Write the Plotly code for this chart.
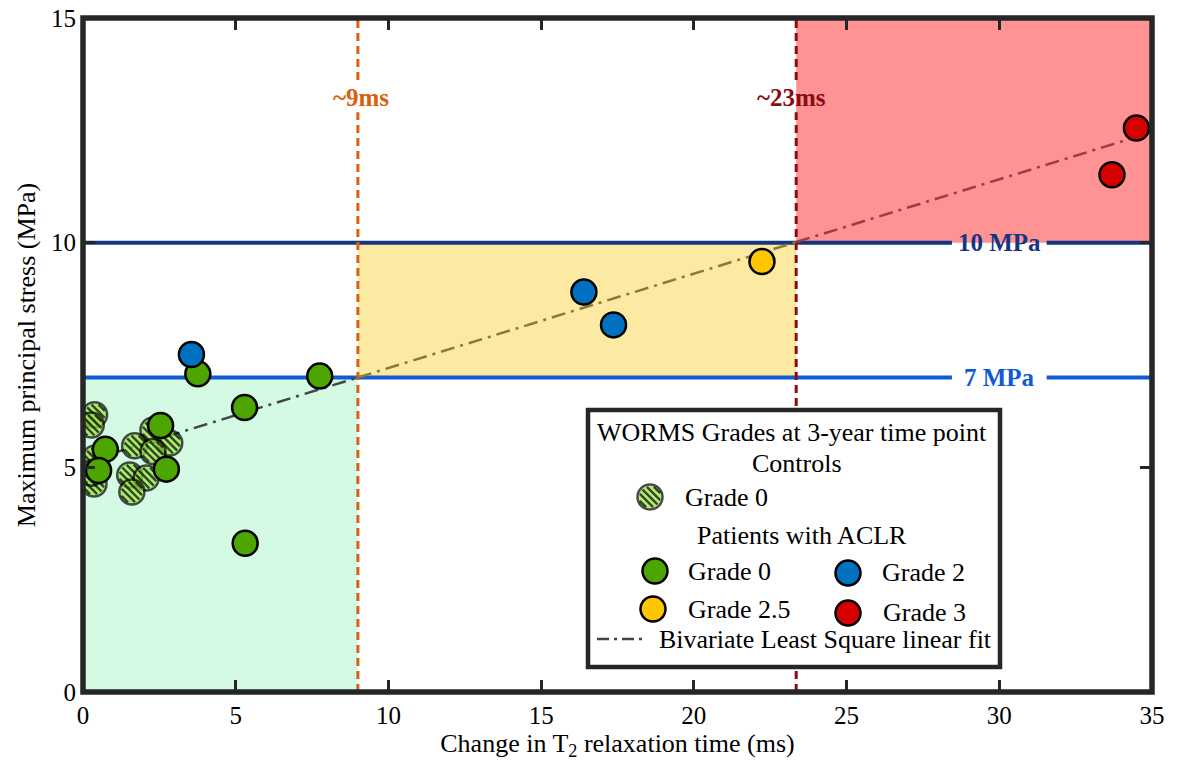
import math
import plotly.graph_objects as go

# ---------------- data ----------------
ctrl_x = [0.38, 0.27, 2.29, 2.84, 1.69, 2.29, 0.38, 0.36, 0.27, 1.53, 2.07, 1.60]
ctrl_y = [6.17, 5.94, 5.83, 5.54, 5.48, 5.35, 5.20, 4.63, 4.87, 4.83, 4.76, 4.45]
g0_x = [3.76, 7.75, 5.29, 5.31, 2.54, 0.73, 0.51, 2.73]
g0_y = [7.08, 7.03, 6.33, 3.31, 5.93, 5.40, 4.93, 4.96]
g2_x = [3.55, 16.40, 17.37]
g2_y = [7.51, 8.90, 8.17]
g25_x = [22.23]
g25_y = [9.58]
g3_x = [34.49, 33.69]
g3_y = [12.55, 11.51]

fit_slope = 0.21
fit_intercept = 5.11
t2_thresholds = [9.0, 23.35]          # ms
stress_thresholds = [7.0, 10.0]       # MPa
x_range = [0, 35]
y_range = [0, 15]
x_ticks = [0, 5, 10, 15, 20, 25, 30, 35]
y_ticks = [0, 5, 10, 15]

# ---------------- style ----------------
W, H = 1181, 772
PL, PT, PW, PH = 83, 18, 1069, 674  # plot area in screen pixels
ML, MT = PL, PT
MR, MB = W - ML - PW, H - MT - PH
SX = PW / (x_range[1] - x_range[0])
SY = PH / (y_range[1] - y_range[0])
FONT = "Liberation Serif"
FRAME = "#262626"
C_GREEN_BG = "#D4FAE4"
C_YELLOW_BG = "#FCEAA2"
C_RED_BG = "#FF9292"
C_ORANGE = "#DA600F"
C_DARKRED = "#8C0A14"
C_NAVY = "#143682"
C_BLUE = "#105AD4"
C_G0 = "#4DA600"
C_HATCH = "#98E63C"
C_G2 = "#0070C0"
C_G25 = "#FFC600"
C_G3 = "#D60000"
MS = 25
MLW = 2.5
R_IN = MS / 2 - MLW / 2
STRIPES = [-10, -5, 0, 5, 10]
FIT_DASH = "14px,6px,3px,6px"

fig = go.Figure()


def hatched(xs, ys, sx, sy, ydir, xaxis="x", yaxis="y"):
    X, Y, sym, size, col, lcol, lw = [], [], [], [], [], [], []
    r2 = math.sqrt(2)
    for x, y in zip(xs, ys):
        X.append(x); Y.append(y); sym.append("circle"); size.append(MS)
        col.append(C_HATCH); lcol.append("black"); lw.append(MLW)
        for d in STRIPES:
            h = math.sqrt(max(R_IN ** 2 - d ** 2, 0)) - 0.7
            if h <= 0.5:
                continue
            X.append(x + d / r2 / sx)
            Y.append(y + ydir * d / r2 / sy)
            sym.append("line-nw"); size.append(h * r2)
            col.append("black"); lcol.append("black"); lw.append(2.4)
    return go.Scatter(x=X, y=Y, mode="markers", xaxis=xaxis, yaxis=yaxis,
                      marker=dict(symbol=sym, size=size, color=col,
                                  line=dict(color=lcol, width=lw)),
                      showlegend=False, hoverinfo="skip")


def solid(xs, ys, color, xaxis="x", yaxis="y"):
    return go.Scatter(x=xs, y=ys, mode="markers", xaxis=xaxis, yaxis=yaxis,
                      marker=dict(symbol="circle", size=MS, color=color,
                                  line=dict(color="black", width=MLW)),
                      showlegend=False)


# fit line in three coloured pieces
breaks = [x_range[0]] + t2_thresholds + [x_range[1]]
fit_cols = ["#454545", "#8C7A30", "#A23C3C"]
for i in range(3):
    xa, xb = breaks[i], breaks[i + 1]
    fig.add_trace(go.Scatter(x=[xa, xb],
                             y=[fit_intercept + fit_slope * xa, fit_intercept + fit_slope * xb],
                             mode="lines", line=dict(color=fit_cols[i], width=2.5, dash=FIT_DASH),
                             showlegend=False, hoverinfo="skip"))

fig.add_trace(hatched(ctrl_x, ctrl_y, SX, SY, 1))
fig.add_trace(solid(g0_x, g0_y, C_G0))
fig.add_trace(solid(g2_x, g2_y, C_G2))
fig.add_trace(solid(g25_x, g25_y, C_G25))
fig.add_trace(solid(g3_x, g3_y, C_G3))

# ---------------- legend (pixel overlay axes, screen pixels) ----------------
LEG_BOX = [588, 410, 1000, 667]
fig.add_trace(hatched([650], [497], 1, 1, -1, "x2", "y2"))
fig.add_trace(solid([655], [571], C_G0, "x2", "y2"))
fig.add_trace(solid([848], [573], C_G2, "x2", "y2"))
fig.add_trace(solid([653], [609], C_G25, "x2", "y2"))
fig.add_trace(solid([848], [613], C_G3, "x2", "y2"))
fig.add_trace(go.Scatter(x=[597, 643], y=[639, 639], mode="lines", xaxis="x2", yaxis="y2",
                         line=dict(color="#454545", width=2.5, dash="12px,5px,3px,5px"),
                         showlegend=False, hoverinfo="skip"))

shapes = []
t9, t23 = t2_thresholds
s7, s10 = stress_thresholds
shapes.append(dict(type="rect", x0=x_range[0], x1=t9, y0=y_range[0], y1=s7,
                   fillcolor=C_GREEN_BG, line=dict(width=0), layer="below"))
shapes.append(dict(type="rect", x0=t9, x1=t23, y0=s7, y1=s10,
                   fillcolor=C_YELLOW_BG, line=dict(width=0), layer="below"))
shapes.append(dict(type="rect", x0=t23, x1=x_range[1], y0=s10, y1=y_range[1],
                   fillcolor=C_RED_BG, line=dict(width=0), layer="below"))
hgap = [28.45, 31.55]
for yv, c in [(s10, C_NAVY), (s7, C_BLUE)]:
    for xa, xb in [(x_range[0], hgap[0]), (hgap[1], x_range[1])]:
        shapes.append(dict(type="line", x0=xa, x1=xb, y0=yv, y1=yv,
                           line=dict(color=c, width=4), layer="below"))
vgap = [12.9, 13.62]
for xv, c in [(t9, C_ORANGE), (t23, C_DARKRED)]:
    for ya, yb in [(y_range[0], vgap[0]), (vgap[1], y_range[1])]:
        shapes.append(dict(type="line", x0=xv, x1=xv, y0=ya, y1=yb,
                           line=dict(color=c, width=3, dash="8px,5px"), layer="below"))
# legend box
shapes.append(dict(type="rect", xref="x2", yref="y2", x0=LEG_BOX[0], x1=LEG_BOX[2],
                   y0=LEG_BOX[1], y1=LEG_BOX[3], fillcolor="white",
                   line=dict(color=FRAME, width=4.5), layer="below"))
# frame
shapes.append(dict(type="rect", xref="paper", yref="paper", x0=0, x1=1, y0=0, y1=1,
                   line=dict(color=FRAME, width=5.5), layer="above"))

ann = []
ann.append(dict(x=9.1, y=13.22, text="<b>~9ms</b>", showarrow=False,
                font=dict(family=FONT, size=25, color=C_ORANGE)))
ann.append(dict(x=23.2, y=13.22, text="<b>~23ms</b>", showarrow=False,
                font=dict(family=FONT, size=25, color=C_DARKRED)))
ann.append(dict(x=30, y=s10, text="<b>10 MPa</b>", showarrow=False,
                font=dict(family=FONT, size=25, color=C_NAVY)))
ann.append(dict(x=30, y=s7, text="<b>7 MPa</b>", showarrow=False,
                font=dict(family=FONT, size=25, color=C_BLUE)))

LF = dict(family=FONT, size=26, color="black")
leg_text = [
    (792, 432, "WORMS Grades at 3-year time point", "center"),
    (797, 463, "Controls", "center"),
    (802, 535, "Patients with ACLR", "center"),
    (683, 497, "Grade 0", "left"),
    (686, 571, "Grade 0", "left"),
    (880, 572, "Grade 2", "left"),
    (686, 609, "Grade 2.5", "left"),
    (881, 612, "Grade 3", "left"),
    (657, 639, "Bivariate Least Square linear fit", "left"),
]
for x, y, t, a in leg_text:
    ann.append(dict(x=x, y=y, xref="x2", yref="y2", text=t, showarrow=False,
                    xanchor=a, yanchor="middle", font=LF))

fig.update_layout(
    width=W, height=H,
    margin=dict(l=ML, r=MR, t=MT, b=MB, autoexpand=False),
    paper_bgcolor="white", plot_bgcolor="white",
    showlegend=False,
    font=dict(family=FONT),
    shapes=shapes, annotations=ann,
    xaxis=dict(range=x_range, tickvals=x_ticks, ticks="inside", ticklen=12, tickwidth=3,
               tickcolor=FRAME, showline=True, linecolor=FRAME, linewidth=2, mirror="ticks",
               showgrid=False, zeroline=False, automargin=False, ticklabeloverflow="allow",
               tickfont=dict(family=FONT, size=25, color="black"),
               title=dict(text="Change in T<sub>2</sub> relaxation time (ms)", standoff=4,
                          font=dict(family=FONT, size=26, color="black"))),
    yaxis=dict(range=y_range, tickvals=y_ticks, ticks="inside", ticklen=12, tickwidth=3,
               tickcolor=FRAME, showline=True, linecolor=FRAME, linewidth=2, mirror="ticks",
               showgrid=False, zeroline=False, automargin=False, ticklabeloverflow="allow",
               tickfont=dict(family=FONT, size=25, color="black"),
               title=dict(text="Maximum principal stress (MPa)", standoff=8,
                          font=dict(family=FONT, size=26, color="black"))),
    xaxis2=dict(overlaying="x", range=[PL, PL + PW], visible=False, showgrid=False,
                automargin=False),
    yaxis2=dict(overlaying="y", range=[PT + PH, PT], visible=False, showgrid=False,
                automargin=False),
)

fig.write_html("out.html",
               config={"displayModeBar": False},
               post_script="document.body.style.margin='0px';document.body.style.padding='0px';")
